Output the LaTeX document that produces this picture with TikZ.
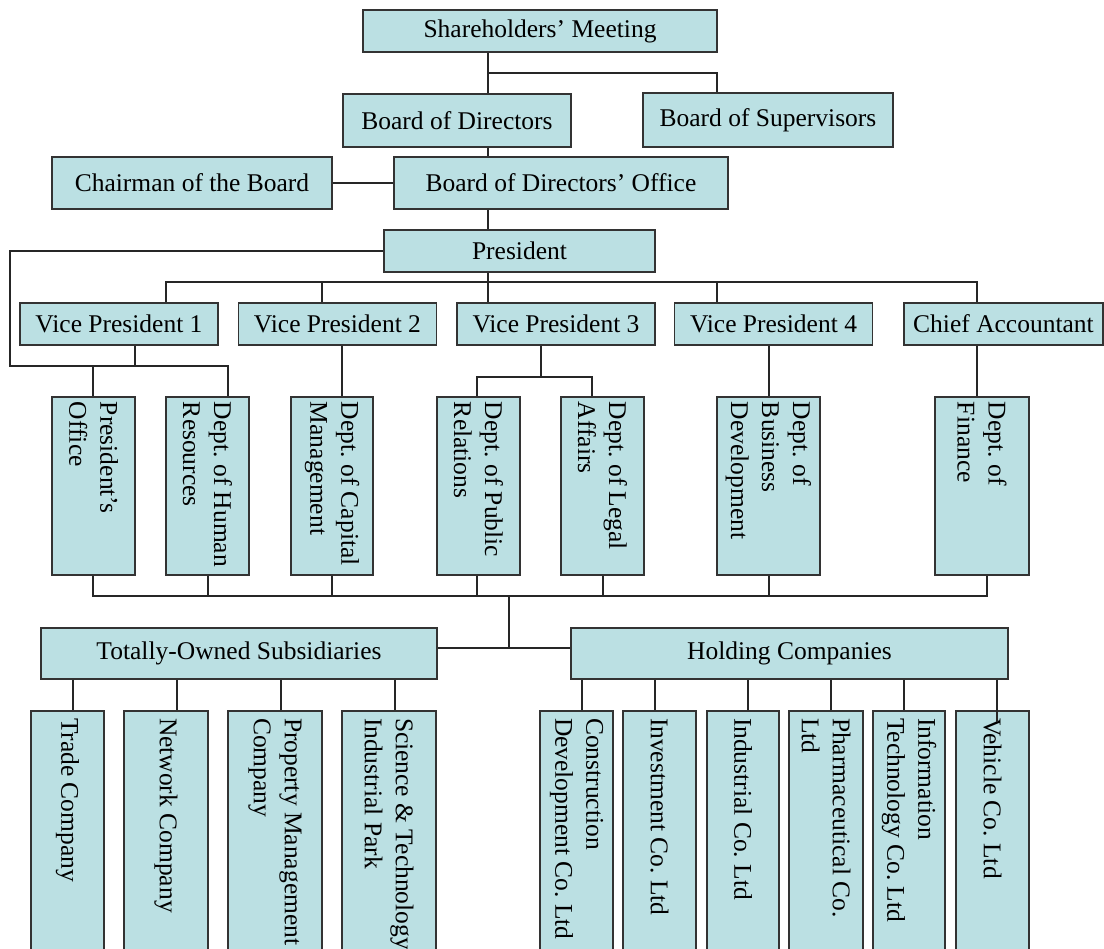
\documentclass[tikz,border=0pt]{standalone}
\usepackage{fontspec}
\setmainfont{Liberation Serif}
\definecolor{boxfill}{HTML}{BBE0E3}
\newcommand\orgfont{\fontsize{25.5}{31}\selectfont\frenchspacing}
\tikzset{
  unit/.style={draw=black!80, fill=boxfill, line width=1.3pt, inner sep=0pt,
    font=\orgfont},
  hbox/.style 2 args={unit, minimum width=#1pt, minimum height=#2pt},
  vbox/.style={unit, rotate=-90, minimum width=178pt, minimum height=#1pt,
    text width=168pt, align=flush left},
  sbox/.style={unit, rotate=-90, minimum width=279pt, minimum height=#1pt,
    text width=265pt, align=flush left},
  link/.style={draw=black!85, line width=1.2pt}
}
\begin{document}
\begin{tikzpicture}[x=1pt, y=-1pt]
\useasboundingbox (0,0) rectangle (1104,949);
\clip (0,0) rectangle (1104,949);

\node[hbox={354}{42}] (share) at (540,31) {Shareholders’ Meeting};
\node[hbox={228}{53}] (bod) at (457,120.5) {Board of Directors};
\node[hbox={250}{54}] (bos) at (768,120) {Board of Supervisors};
\node[hbox={280}{52}] (chair) at (192,183) {Chairman of the Board};
\node[hbox={334}{52}] (bdo) at (561,183) {Board of Directors’ Office};
\node[hbox={271}{42}] (pres) at (519.5,251) {President};
\foreach \n/\x/\t in {vp1/119/Vice President 1, vp2/337.5/Vice President 2,
    vp3/556/Vice President 3, vp4/773.5/Vice President 4}
  \node[hbox={198}{42}] (\n) at (\x,324) {\t};
\node[hbox={199}{42}] (ca) at (1003.5,324) {Chief Accountant};

\node[vbox=83] (po) at (93.5,486) {President’s\\Office};
\node[vbox=83] (hr) at (207.5,486) {Dept.~of~Human\\Resources};
\node[vbox=82] (cap) at (332,486) {Dept.~of~Capital\\Management};
\node[vbox=83] (pr) at (478.5,486) {Dept.~of~Public\\Relations};
\node[vbox=83] (legal) at (602.5,486) {Dept.~of~Legal\\Affairs};
\node[vbox=103] (bd) at (768.5,486) {Dept.~of\\Business\\Development};
\node[vbox=94] (fin) at (982,486) {Dept.~of\\Finance};

\node[hbox={396}{51}] (tos) at (239,653.5) {Totally-Owned Subsidiaries};
\node[hbox={437}{51}] (hold) at (789.5,653.5) {Holding Companies};

\foreach \n/\x/\w/\t in {trade/67.5/73/Trade Company, network/166/84/Network Company,
    property/275/94/Property Management\\Company,
    science/389/94/Science \& Technology\\Industrial Park,
    constr/576.5/73/Construction\\Development Co. Ltd,
    invest/659.5/73/Investment Co. Ltd, indus/743/72/Industrial Co. Ltd,
    pharma/826/74/Pharmaceutical Co.\\Ltd,
    infotech/909/72/Information\\Technology Co. Ltd,
    vehicle/992.5/73/Vehicle Co. Ltd}
  \node[sbox=\w] (\n) at (\x,850.5) {\t};

\coordinate (spine) at (488,0);
\coordinate (j1) at (488,73);
\coordinate (j2) at (488,282);
\coordinate (j3) at (135,366);
\coordinate (j4) at (541,377);
\coordinate (j5) at (509,596);
\coordinate (j6) at (509,648);
\coordinate (vtip) at (997,722);

\foreach \a/\b in {share/bod, bod/bdo, bdo/pres, pres/vp3}
  \draw[link] (\a.south -| spine) -- (\b.north -| spine);
\draw[link] (j1) -| (bos.north -| 717,0);
\draw[link] (chair.east) -- (bdo.west);
\foreach \n/\x in {vp1/166, vp2/322, vp4/717, ca/977}
  \draw[link] (\n.north -| \x,0) |- (j2);

\draw[link] (pres.west) -| (10,366) -| (hr.west -| 228,0);
\draw[link] (vp1.south -| j3) -- (j3);
\draw[link] (po.west -| 93,0) -- (j3 -| 93,0);
\draw[link] (vp2.south -| 342,0) -- (cap.west -| 342,0);
\draw[link] (vp3.south -| j4) -- (j4);
\draw[link] (pr.west -| 477,0) |- (j4) -| (legal.west -| 592,0);
\draw[link] (vp4.south -| 769,0) -- (bd.west -| 769,0);
\draw[link] (ca.south -| 977,0) -- (fin.west -| 977,0);

\foreach \n/\x in {po/93, hr/208, cap/332, pr/477, legal/603, bd/769, fin/987}
  \draw[link] (\n.east -| \x,0) |- (j5);
\draw[link] (j5) -- (j6);
\draw[link] (tos.east |- j6) -- (hold.west |- j6);

\foreach \n/\x in {trade/73, network/177, property/281, science/395}
  \draw[link] (tos.south -| \x,0) -- (\n.west -| \x,0);
\foreach \n/\x in {constr/582, invest/655, indus/748, pharma/831, infotech/904}
  \draw[link] (hold.south -| \x,0) -- (\n.west -| \x,0);
\draw[link] (hold.south -| vtip) -- (vtip);
\end{tikzpicture}
\end{document}
